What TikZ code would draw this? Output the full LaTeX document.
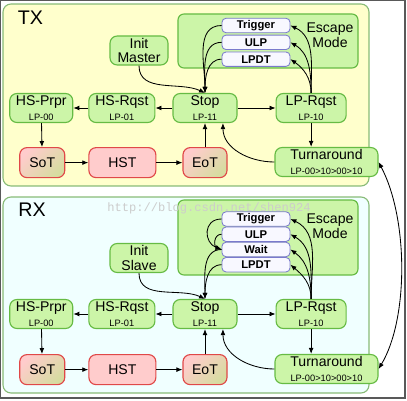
\documentclass[tikz,border=0pt]{standalone}
\usepackage{fontspec}
\setmainfont{Liberation Sans}
\setmonofont{Liberation Mono}
\usepackage{tikz}
\usetikzlibrary{positioning}
\usetikzlibrary{arrows.meta}

\definecolor{panelyellow}{HTML}{FFFFCC}
\definecolor{panelcyan}{HTML}{F0FFFF}
\definecolor{panelborder}{HTML}{88BB77}
\definecolor{stategreen}{HTML}{CCF5A8}
\definecolor{stateborder}{HTML}{66BB44}
\definecolor{hspink}{HTML}{FFCCCC}
\definecolor{hsborder}{HTML}{E04848}
\definecolor{hstan}{HTML}{D6DCA0}
\definecolor{escborder}{HTML}{7A7ACC}
\definecolor{escfill}{HTML}{F8F8FF}

\newcommand{\lpsub}[1]{{\fontsize{6.6}{7}\selectfont #1}}

\begin{document}
\begin{tikzpicture}[x=0.25mm, y=0.25mm, line width=0.6pt,
                          >={Latex[length=1.5mm,width=1.2mm]},
                          panel/.style={draw=panelborder, line width=0.8pt, rounded corners=2mm},
                          escbox/.style={rectangle, draw=stateborder, fill=stategreen, line width=0.8pt, rounded corners=1.5mm, minimum width=45mm},
                          statenode/.style={rectangle, draw=stateborder, fill=stategreen, line width=0.8pt, rounded corners=1.8mm, minimum height=7.25mm, align=center, inner sep=1pt, font=\fontsize{10}{10.5}\selectfont},
                          hsnode/.style={rectangle, draw=hsborder, fill=hspink, line width=0.8pt, rounded corners=1.8mm, minimum height=7.5mm, font=\fontsize{10}{11}\selectfont},
                          hsmixnode/.style={hsnode, top color=hspink, bottom color=hstan, shading angle=45},
                          escnode/.style={rectangle, draw=escborder, fill=escfill, line width=0.6pt, rounded corners=1mm, minimum width=17mm, minimum height=3.6mm, inner sep=0pt, font=\fontsize{8}{8}\selectfont\bfseries},
                      ]
                      \useasboundingbox (0,0) rectangle (407,400);
                      %Panels
                      \draw[panel, fill=panelyellow] (3,214) rectangle (369,396);
                      \draw[panel, fill=panelcyan] (3,7) rectangle (369,203);
                      \node (tx) at (30.5,382.5) {\fontsize{14}{14}\selectfont TX};
                      \node (rx) at (32,190.5) {\fontsize{14}{14}\selectfont RX};

                      %Nodes TX
                      \node[escbox, minimum height=13.5mm]       (esc_tx)      at (268,359)     {};
                      \node[align=center, font=\fontsize{10}{11}\selectfont] (esclabel_tx) at (330,365) {Escape\\Mode};
                      \node[escnode]        (trigger_tx)   at (256,374.5)            {Trigger};
                      \node[escnode]        (ulp_tx)       [below=0.4mm of trigger_tx] {ULP};
                      \node[escnode]        (lpdt_tx)      [below=0.4mm of ulp_tx]     {LPDT};
                      \node[statenode, minimum width=14.5mm]   (init_tx)    at (139,349.5)   {Init\\Master};
                      \node[statenode, minimum width=16mm]     (stop_tx)    at (205,292)     {Stop\\\lpsub{LP-11}};
                      \node[statenode, minimum width=16.5mm]   (hsrqst_tx)  [left=4.25mm of stop_tx]   {HS-Rqst\\\lpsub{LP-01}};
                      \node[statenode, minimum width=15.75mm]  (hsprpr_tx)  [left=3.75mm of hsrqst_tx] {HS-Prpr\\\lpsub{LP-00}};
                      \node[statenode, minimum width=17.5mm]   (lprqst_tx)  [right=9.5mm of stop_tx]   {LP-Rqst\\\lpsub{LP-10}};
                      \node[hsmixnode, minimum width=11mm]     (eot_tx)     [below=6mm of stop_tx]     {EoT};
                      \node[hsnode, minimum width=16.75mm]     (hst_tx)     [left=6.5mm of eot_tx]     {HST};
                      \node[hsmixnode, minimum width=11.25mm]  (sot_tx)     [left=5.75mm of hst_tx]    {SoT};
                      \node[statenode, minimum width=25.75mm]  (turn_tx)    at (326.5,238)   {Turnaround\\\lpsub{LP-00>10>00>10}};

                      %Nodes RX
                      \node[escbox, minimum height=18.75mm]      (esc_rx)      at (268,162.5)   {};
                      \node[align=center, font=\fontsize{10}{11}\selectfont] (esclabel_rx) at (330,174) {Escape\\Mode};
                      \node[escnode]        (trigger_rx)   at (256,181)              {Trigger};
                      \node[escnode]        (ulp_rx)       [below=0mm of trigger_rx] {ULP};
                      \node[escnode]        (wait_rx)      [below=0mm of ulp_rx]     {Wait};
                      \node[escnode]        (lpdt_rx)      [below=0mm of wait_rx]    {LPDT};
                      \node[statenode, minimum width=14.5mm]   (init_rx)    at (139,142)     {Init\\Slave};
                      \node[statenode, minimum width=16mm]     (stop_rx)    at (205,86)      {Stop\\\lpsub{LP-11}};
                      \node[statenode, minimum width=16.5mm]   (hsrqst_rx)  [left=4.25mm of stop_rx]   {HS-Rqst\\\lpsub{LP-01}};
                      \node[statenode, minimum width=15.75mm]  (hsprpr_rx)  [left=3.75mm of hsrqst_rx] {HS-Prpr\\\lpsub{LP-00}};
                      \node[statenode, minimum width=17.5mm]   (lprqst_rx)  [right=9.5mm of stop_rx]   {LP-Rqst\\\lpsub{LP-10}};
                      \node[hsmixnode, minimum width=11mm]     (eot_rx)     [below=6.25mm of stop_rx]  {EoT};
                      \node[hsnode, minimum width=16.75mm]     (hst_rx)     [left=6.5mm of eot_rx]     {HST};
                      \node[hsmixnode, minimum width=11.25mm]  (sot_rx)     [left=5.75mm of hst_rx]    {SoT};
                      \node[statenode, minimum width=25.75mm]  (turn_rx)    at (326.5,31)    {Turnaround\\\lpsub{LP-00>10>00>10}};

                      %Lines TX
                      \draw[->] (init_tx.south) to[out=-90, in=155] (stop_tx.north);
                      \draw[->] (trigger_tx.west) to[out=180, in=90] (stop_tx.north);
                      \draw[->] (ulp_tx.west) to[out=180, in=90] (stop_tx.north);
                      \draw[->] (lpdt_tx.west) to[out=180, in=90] (stop_tx.north);
                      \draw[->] (stop_tx) -- (hsrqst_tx);
                      \draw[->] (hsrqst_tx) -- (hsprpr_tx);
                      \draw[->] (hsprpr_tx) -- (sot_tx);
                      \draw[->] (sot_tx) -- (hst_tx);
                      \draw[->] (hst_tx) -- (eot_tx);
                      \draw[->] (eot_tx) -- (stop_tx);
                      \draw[->] (stop_tx) -- (lprqst_tx);
                      \draw[->] (lprqst_tx) -- (lprqst_tx |- turn_tx.north);
                      \draw[->] (turn_tx.west) to[out=180, in=-90] (stop_tx.-40);
                      \draw[->] (lprqst_tx.north) to[out=90, in=-25] (trigger_tx.east);
                      \draw[->] (lprqst_tx.north) to[out=90, in=-30] (ulp_tx.east);
                      \draw[->] (lprqst_tx.north) to[out=90, in=-35] (lpdt_tx.east);

                      %Lines RX
                      \draw[->] (init_rx.south) to[out=-90, in=155] (stop_rx.north);
                      \draw[->] (trigger_rx.west) to[out=180, in=160, looseness=1.6] (wait_rx.west);
                      \draw[->] (ulp_rx.west) to[out=180, in=160, looseness=1.4] (wait_rx.west);
                      \draw[->] (wait_rx.west) to[out=180, in=90] (stop_rx.north);
                      \draw[->] (lpdt_rx.west) to[out=180, in=90] (stop_rx.north);
                      \draw[->] (stop_rx) -- (hsrqst_rx);
                      \draw[->] (hsrqst_rx) -- (hsprpr_rx);
                      \draw[->] (hsprpr_rx) -- (sot_rx);
                      \draw[->] (sot_rx) -- (hst_rx);
                      \draw[->] (hst_rx) -- (eot_rx);
                      \draw[->] (eot_rx) -- (stop_rx);
                      \draw[->] (stop_rx) -- (lprqst_rx);
                      \draw[->] (lprqst_rx) -- (lprqst_rx |- turn_rx.north);
                      \draw[->] (turn_rx.west) to[out=180, in=-90] (stop_rx.-40);
                      \draw[->] (lprqst_rx.north) to[out=90, in=-25] (trigger_rx.east);
                      \draw[->] (lprqst_rx.north) to[out=90, in=-30] (ulp_rx.east);
                      \draw[->] (lprqst_rx.north) to[out=90, in=-35] (wait_rx.east);
                      \draw[->] (lprqst_rx.north) to[out=90, in=-40] (lpdt_rx.east);

                      \draw[<->] (turn_tx.east) .. controls +(30,-57) and +(30,50) .. (turn_rx.east);

                      \node[text=gray!40, font=\fontsize{8.6}{9}\ttfamily] (mark) at (209,192) {http://blog.csdn.net/shen924};
                      \draw[black!65, line width=0.8pt] (0.6,2) rectangle (405,399.4);
                  \end{tikzpicture}
\end{document}
